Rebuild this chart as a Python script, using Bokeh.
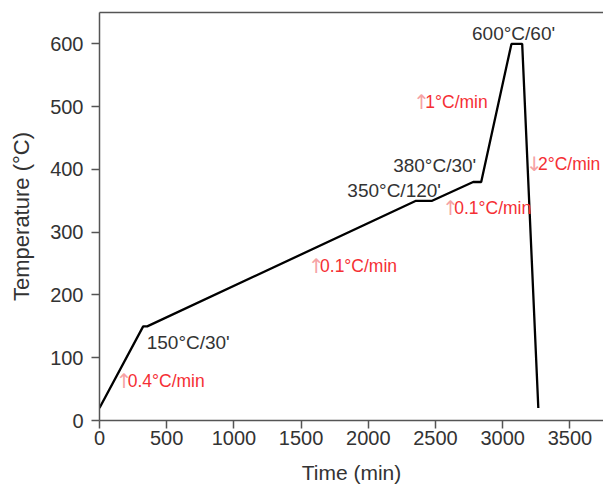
from bokeh.plotting import figure
from bokeh.models import LinearAxis, FixedTicker, ColumnDataSource
from bokeh.core.properties import value
from bokeh.embed import file_html
from bokeh.resources import INLINE

# ---- data ----
time_min = [0, 325, 355, 2355, 2475, 2780, 2840, 3065, 3145, 3265]
temp_c = [20, 150, 150, 350, 350, 380, 380, 600, 600, 20]

x_ticks = [0, 500, 1000, 1500, 2000, 2500, 3000, 3500]
y_ticks = [0, 100, 200, 300, 400, 500, 600]

# step labels (black)
step_labels = ["150°C/30'", "350°C/120'", "380°C/30'", "600°C/60'"]
step_x = [351, 1844, 2185, 2772]
step_y = [125, 366, 406, 617]

# rate labels (red)
rate_arrows = ["↑", "↑", "↑", "↑", "↓"]
rate_labels = ["0.4°C/min", "0.1°C/min", "0.1°C/min", "1°C/min", "2°C/min"]
rate_x = [143, 1574, 2572, 2357, 3195]
rate_y = [63, 246, 339, 508, 409]

FONT = "Liberation Sans"
AX = "#555555"
TXT = "#333333"
RED = "#f52f34"
PINK = "#f6a2a4"

p = figure(width=603, height=489, output_backend="svg", toolbar_location=None,
           x_range=(0, 3750), y_range=(0, 650),
           min_border_left=99, min_border_right=0, min_border_top=12, min_border_bottom=69)
p.outline_line_color = None
p.xgrid.visible = False
p.ygrid.visible = False
p.background_fill_color = "white"

p.line(time_min, temp_c, line_color="black", line_width=2.3)

for ax in (p.xaxis[0], p.yaxis[0]):
    ax.axis_line_color = AX
    ax.axis_line_width = 1.5
    ax.major_tick_line_color = AX
    ax.major_tick_line_width = 1.5
    ax.major_tick_in = 0
    ax.major_tick_out = 8
    ax.minor_tick_line_color = None
    ax.major_label_text_font = FONT
    ax.major_label_text_font_size = "20px"
    ax.major_label_text_color = TXT
    ax.axis_label_text_font = FONT
    ax.axis_label_text_font_style = "normal"
    ax.axis_label_text_color = TXT

p.xaxis[0].ticker = FixedTicker(ticks=x_ticks)
p.yaxis[0].ticker = FixedTicker(ticks=y_ticks)
p.xaxis[0].axis_label = "Time (min)"
p.yaxis[0].axis_label = "Temperature (°C)"
p.xaxis[0].axis_label_text_font_size = "21px"
p.yaxis[0].axis_label_text_font_size = "22px"
p.xaxis[0].major_label_standoff = 2
p.xaxis[0].axis_label_standoff = 13
p.yaxis[0].major_label_standoff = 8
p.yaxis[0].axis_label_standoff = 13

top = LinearAxis(axis_line_color=AX, axis_line_width=1.5, ticker=FixedTicker(ticks=[]),
                 major_tick_line_color=None, minor_tick_line_color=None)
p.add_layout(top, "above")

src_step = ColumnDataSource(dict(x=step_x, y=step_y, t=step_labels))
p.text(x="x", y="y", text="t", source=src_step, text_font=value(FONT),
       text_font_size="19px", text_color=TXT, text_align="left", text_baseline="middle")

src_rate = ColumnDataSource(dict(x=rate_x, y=rate_y, a=rate_arrows, t=rate_labels))
p.text(x="x", y="y", text="a", source=src_rate, text_font=value("DejaVu Sans"), x_offset=-3,
       text_font_size="20px", text_color=PINK, text_align="left", text_baseline="middle")
p.text(x="x", y="y", text="t", source=src_rate, text_font=value(FONT), x_offset=9,
       text_font_size="17.5px", text_color=RED, text_align="left", text_baseline="middle")

open("out.html", "w").write(file_html(p, INLINE))
